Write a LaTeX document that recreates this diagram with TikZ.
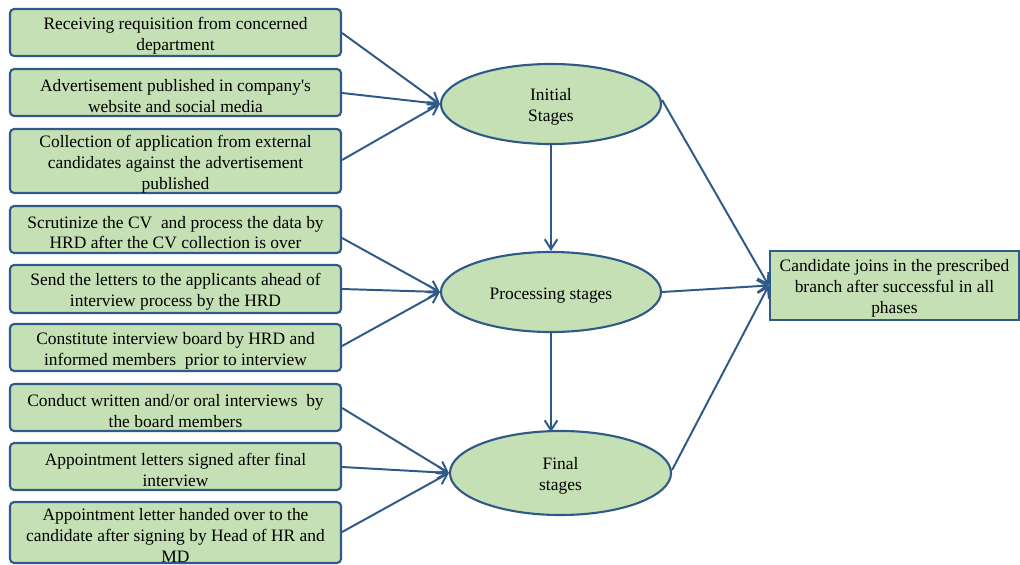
\documentclass[tikz,border=0pt]{standalone}
\usepackage{fontspec}
\setmainfont{Liberation Serif}[Ligatures=TeXOff]
\usetikzlibrary{arrows.meta,shapes.geometric}
\definecolor{boxfill}{HTML}{C5E0B4}
\definecolor{boxline}{HTML}{2F5A88}
\newcommand\tstrut{\rule{0pt}{13pt}}
\begin{document}
\begin{tikzpicture}[x=0.025cm,y=-0.025cm,
  every node/.style={font=\fontsize{12.4}{14.9}\selectfont, align=center, inner sep=0pt, text=black},
  leftbox/.style={draw=boxline, fill=boxfill, line width=1.5pt, rounded corners=3pt, minimum width=8.275cm},
  stage/.style={draw=boxline, fill=boxfill, line width=1.5pt, ellipse, minimum width=5.5cm, minimum height=2cm},
  endbox/.style={draw=boxline, fill=boxfill, line width=1.8pt, minimum width=6.225cm, minimum height=1.725cm},
  conn/.style={draw=boxline, line width=1.4pt, -{Straight Barb[length=7pt,width=9pt,line width=1.4pt]}}
]
\useasboundingbox (0,0) rectangle (1020,565);

\node[leftbox, minimum height=1.175cm] (b1) at (175.5,32.5) {\tstrut Receiving requisition from concerned\\department};
\node[leftbox, minimum height=1.175cm] (b2) at (175.5,92.5) {\tstrut Advertisement published in company's\\website and social media};
\node[leftbox, minimum height=1.6cm] (b3) at (175.5,161) {\tstrut Collection of application from external\\candidates against the advertisement\\published};
\node[leftbox, minimum height=1.175cm] (b4) at (175.5,229.5) {\tstrut Scrutinize the CV\ \ and process the data by\\HRD after the CV collection is over};
\node[leftbox, minimum height=1.2cm] (b5) at (175.5,289) {\tstrut Send the letters to the applicants ahead of\\interview process by the HRD};
\node[leftbox, minimum height=1.175cm] (b6) at (175.5,347.5) {\tstrut Constitute interview board by HRD and\\informed members\ \ prior to interview};
\node[leftbox, minimum height=1.175cm] (b7) at (175.5,407.5) {\tstrut Conduct written and/or oral interviews\ \ by\\the board members};
\node[leftbox, minimum height=1.175cm] (b8) at (175.5,466.5) {\tstrut Appointment letters signed after final\\interview};
\node[leftbox, minimum height=1.525cm] (b9) at (175.5,532.5) {\tstrut Appointment letter handed over to the\\candidate after signing by Head of HR and\\MD};

\node[stage] (init) at (551,104) {\tstrut Initial\\Stages};
\node[stage] (proc) at (551,292) {\tstrut Processing stages};
\node[stage, minimum width=5.525cm, minimum height=2.1cm] (fin) at (560.5,473) {\tstrut Final\\stages};

\node[endbox] (cand) at (894.5,285.5) {\tstrut Candidate joins in the prescribed\\branch after successful in all\\phases};

\draw[conn] (b1.east |- 0,33) -- (init.west);
\draw[conn] (b2.east |- 0,93) -- (init.west);
\draw[conn] (b3.east |- 0,160) -- (init.west);
\draw[conn] (b4.east |- 0,238) -- (proc.west);
\draw[conn] (b5.east |- 0,289) -- (proc.west);
\draw[conn] (b6.east |- 0,346) -- (proc.west);
\draw[conn] (b7.east |- 0,408) -- (fin.west);
\draw[conn] (b8.east |- 0,467) -- (fin.west);
\draw[conn] (b9.east |- 0,532) -- (fin.west);

\draw[conn] (init.south) -- (proc.north);
\draw[conn] (proc.south) -- ([yshift=-1.5pt]proc.south |- fin.north);

\draw[conn] (init.east |- 0,100) -- (cand.west);
\draw[conn] (proc.east) -- (cand.west);
\draw[conn] (fin.east |- 0,470) -- (cand.west);
\end{tikzpicture}
\end{document}
